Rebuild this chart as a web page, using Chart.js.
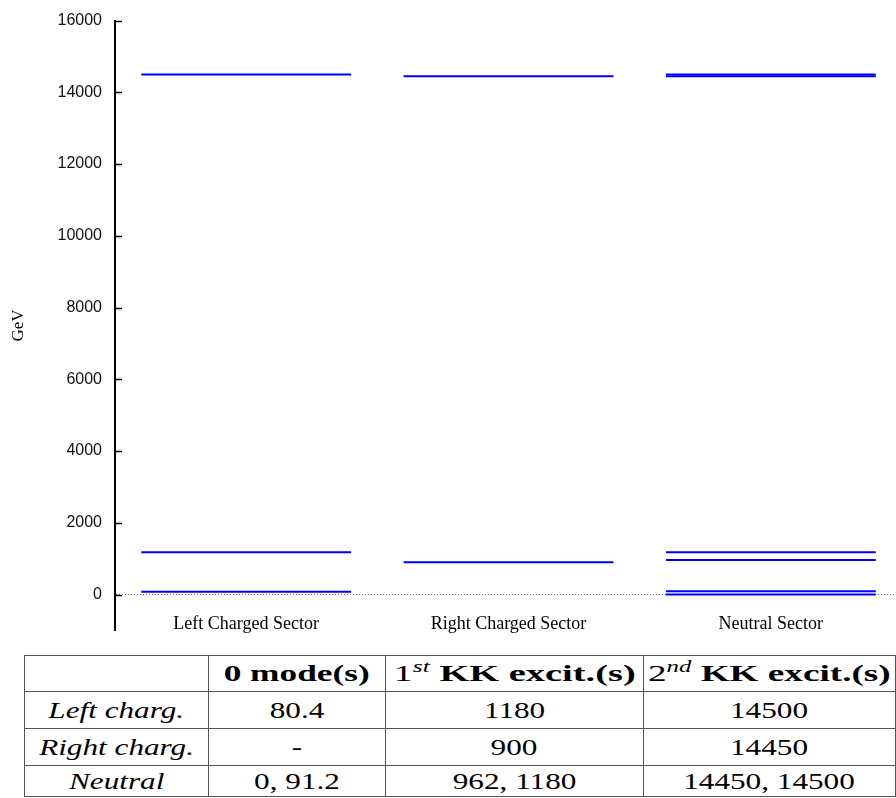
<!DOCTYPE html>
<html>
<head>
<meta charset="utf-8">
<script src="https://cdn.jsdelivr.net/npm/chart.js@4.4.0/dist/chart.umd.min.js"></script>
<style>
  html, body { margin: 0; padding: 0; background: #fff; overflow: hidden; width: 896px; height: 798px; }
  #wrap { position: absolute; left: 0; top: -2px; width: 904px; height: 655px; }
  table.modes {
    position: absolute; left: 24px; top: 655px;
    border-collapse: collapse; table-layout: fixed;
    font-family: 'Liberation Serif', 'Times New Roman', serif; font-size: 24px; color: #000;
  }
  table.modes td {
    border: 1.5px solid #555; padding: 0; text-align: center; vertical-align: middle;
    white-space: nowrap; overflow: hidden;
  }
  .s { display: inline-block; transform: scaleX(1.3); }
  .h0 { display: inline-block; transform: scaleX(1.47); }
  .h { display: inline-block; transform: scaleX(1.6); }
  .h2 { display: inline-block; transform: scaleX(1.55); }
  .b { font-weight: bold; }
  .i { font-style: italic; }
  sup { font-size: 16px; font-style: italic; font-weight: normal; vertical-align: 9px; line-height: 0; }
</style>
</head>
<body>
<div id="wrap"><canvas id="c" width="904" height="655"></canvas></div>
<table class="modes" id="tbl">
  <colgroup><col style="width:185px"><col style="width:177px"><col style="width:259px"><col style="width:253px"></colgroup>
  <tbody id="tbody"></tbody>
</table>
<script>
// Mass spectrum (GeV) per sector: zero modes, first and second KK excitations
const sectors = ['Left Charged Sector', 'Right Charged Sector', 'Neutral Sector'];
const rowNames = ['Left charg.', 'Right charg.', 'Neutral'];

const leftZero = [80.4];
const leftKK1 = [1180];
const leftKK2 = [14500];

const rightZero = [];
const rightKK1 = [900];
const rightKK2 = [14450];

const neutralZero = [0, 91.2];
const neutralKK1 = [962, 1180];
const neutralKK2 = [14450, 14500];

const yTicks = [0, 2000, 4000, 6000, 8000, 10000, 12000, 14000, 16000];

const sectorLevels = [
  [leftZero, leftKK1, leftKK2],
  [rightZero, rightKK1, rightKK2],
  [neutralZero, neutralKK1, neutralKK2]
];

// one short horizontal segment per mass level, centred in its sector column
const datasets = [];
sectorLevels.forEach((levels, i) => {
  levels.flat().forEach(v => {
    datasets.push({
      data: [{ x: i + 0.1, y: v }, { x: i + 0.9, y: v }],
      showLine: true,
      borderColor: '#0000ff',
      borderWidth: 2,
      borderCapStyle: 'butt',
      pointRadius: 0,
      fill: false
    });
  });
});

// short tick marks pointing into the plot from the y axis
const innerTicks = {
  id: 'innerTicks',
  afterDatasetsDraw(chart) {
    const y = chart.scales.y;
    const c = chart.ctx;
    c.save();
    c.strokeStyle = '#000';
    c.lineWidth = 1.5;
    y.ticks.forEach(t => {
      const py = Math.round(y.getPixelForValue(t.value)) + 0.5;
      c.beginPath();
      c.moveTo(y.right, py);
      c.lineTo(y.right + 7, py);
      c.stroke();
    });
    c.restore();
  }
};

new Chart(document.getElementById('c').getContext('2d'), {
  type: 'scatter',
  data: { datasets },
  options: {
    responsive: false,
    animation: false,
    layout: { padding: { left: 0, right: 2, top: 15.4, bottom: 0 } },
    plugins: { legend: { display: false }, tooltip: { enabled: false } },
    scales: {
      x: {
        type: 'linear', min: 0, max: 3,
        afterBuildTicks: s => { s.ticks = sectors.map((_, i) => ({ value: i + 0.5 })); },
        afterFit: s => { s.height = 10; },
        grid: { display: false, drawTicks: false },
        border: { display: false },
        ticks: {
          mirror: true, padding: -4.4, autoSkip: false, maxRotation: 0,
          callback: v => sectors[Math.floor(v)],
          font: { family: 'Liberation Serif', size: 18 }, color: '#000'
        }
      },
      y: {
        type: 'linear', min: -1000, max: 16000,
        afterBuildTicks: s => { s.ticks = yTicks.map(v => ({ value: v })); },
        afterFit: s => { s.width = 115; },
        grid: {
          drawTicks: false, lineWidth: 1,
          color: c => (c.tick && c.tick.value === 0) ? '#777' : 'rgba(0,0,0,0)'
        },
        border: { display: true, color: '#000', width: 2, dash: [1, 2] },
        ticks: {
          padding: 13, callback: v => String(v),
          font: { family: 'Liberation Sans', size: 16 }, color: '#111'
        },
        title: {
          display: true, text: 'GeV', color: '#000',
          font: { family: 'Liberation Serif', size: 17 },
          padding: { top: 8, bottom: 0 }
        }
      }
    }
  },
  plugins: [innerTicks]
});

// summary table built from the same level arrays
const fmt = arr => arr.length ? arr.join(', ') : '-';
const tbody = document.getElementById('tbody');
const rowHeights = [36, 37, 37, 31];
const head = document.createElement('tr');
head.style.height = rowHeights[0] + 'px';
head.innerHTML =
  '<td></td>' +
  '<td><span class="h0 b">0 mode(s)</span></td>' +
  '<td><span class="h">1<sup>st</sup> <span class="b">KK excit.(s)</span></span></td>' +
  '<td><span class="h2">2<sup>nd</sup> <span class="b">KK excit.(s)</span></span></td>';
tbody.appendChild(head);
sectorLevels.forEach((levels, i) => {
  const tr = document.createElement('tr');
  tr.style.height = rowHeights[i + 1] + 'px';
  let html = '<td><span class="s i">' + rowNames[i] + '</span></td>';
  levels.forEach(l => { html += '<td><span class="s">' + fmt(l) + '</span></td>'; });
  tr.innerHTML = html;
  tbody.appendChild(tr);
});
</script>
</body>
</html>
